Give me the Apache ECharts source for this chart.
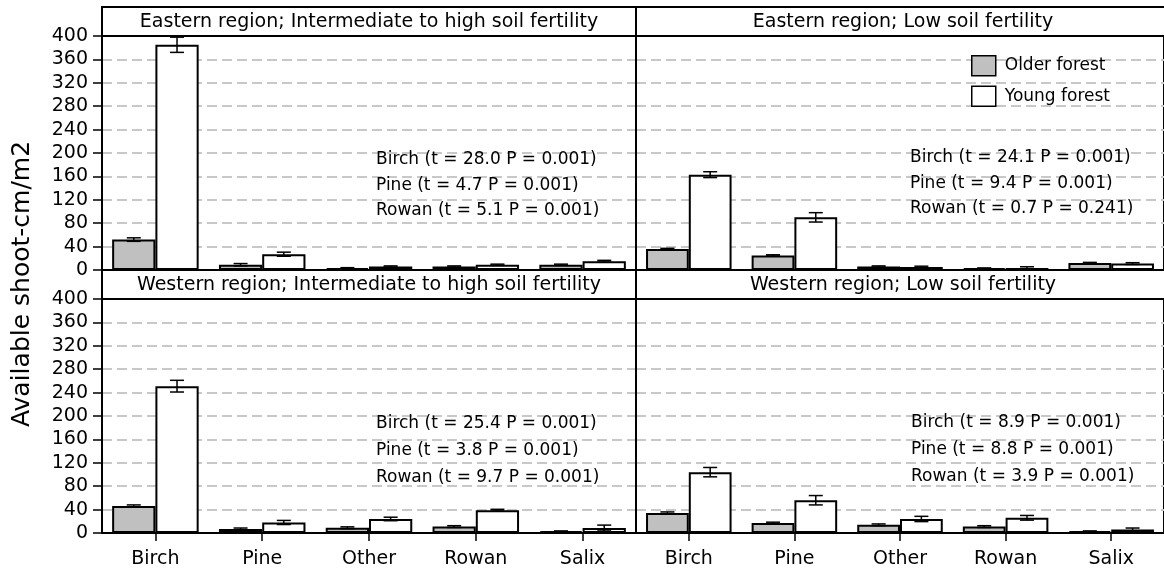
<!DOCTYPE html>
<html>
<head>
<meta charset="utf-8">
<script src="https://cdn.jsdelivr.net/npm/echarts@6/dist/echarts.min.js"></script>
<style>
html,body{margin:0;padding:0;background:#fff;}
#chart{width:1164px;height:573px;}
</style>
</head>
<body>
<div id="chart"></div>
<script>
// ---- data ----
const categories = ['Birch', 'Pine', 'Other', 'Rowan', 'Salix'];
const panelTitles = [
  'Eastern region; Intermediate to high soil fertility',
  'Eastern region; Low soil fertility',
  'Western region; Intermediate to high soil fertility',
  'Western region; Low soil fertility'
];
const seriesNames = ['Older forest', 'Young forest'];
const yTicks = [0, 40, 80, 120, 160, 200, 240, 280, 320, 360, 400];

const eastHighOlder = [52, 9, 3, 6, 9];
const eastHighOlderErr = [3, 2, 1, 1, 1];
const eastHighYoung = [385, 27, 6, 9, 15];
const eastHighYoungErr = [13, 3.5, 1, 1, 1.5];

const eastLowOlder = [36, 25, 6, 3, 12];
const eastLowOlderErr = [1, 1, 1, 0.5, 1];
const eastLowYoung = [163, 90, 5, 3.5, 11];
const eastLowYoungErr = [5, 8, 1.5, 2, 1.5];

const westHighOlder = [46, 7, 9, 11, 3];
const westHighOlderErr = [2, 1.5, 1.5, 1.5, 0.5];
const westHighYoung = [251, 18, 24, 39, 8.5];
const westHighYoungErr = [10, 3.5, 3, 1.5, 5];

const westLowOlder = [34, 17, 14, 11, 3];
const westLowOlderErr = [2, 1.5, 1.5, 1.5, 0.5];
const westLowYoung = [104, 56, 24, 26, 6];
const westLowYoungErr = [8, 8, 4.5, 4, 2.5];

const annotations = [
  ['Birch (t = 28.0 P = 0.001)', 'Pine (t = 4.7 P = 0.001)', 'Rowan (t = 5.1 P = 0.001)'],
  ['Birch (t = 24.1 P = 0.001)', 'Pine (t = 9.4 P = 0.001)', 'Rowan (t = 0.7 P = 0.241)'],
  ['Birch (t = 25.4 P = 0.001)', 'Pine (t = 3.8 P = 0.001)', 'Rowan (t = 9.7 P = 0.001)'],
  ['Birch (t = 8.9 P = 0.001)', 'Pine (t = 8.8 P = 0.001)', 'Rowan (t = 3.9 P = 0.001)']
];
const yAxisTitle = 'Available shoot-cm/m2';

// ---- layout / style ----
const FONT = 'DejaVu Sans';
const panels = [
  {left: 102, top: 36, older: eastHighOlder, olderErr: eastHighOlderErr, young: eastHighYoung, youngErr: eastHighYoungErr, showY: true, showX: false, ann: [376, 160, 25.5]},
  {left: 636, top: 36, older: eastLowOlder, olderErr: eastLowOlderErr, young: eastLowYoung, youngErr: eastLowYoungErr, showY: false, showX: false, ann: [910, 158, 25.5]},
  {left: 102, top: 299, older: westHighOlder, olderErr: westHighOlderErr, young: westHighYoung, youngErr: westHighYoungErr, showY: true, showX: true, ann: [376, 424, 27]},
  {left: 636, top: 299, older: westLowOlder, olderErr: westLowOlderErr, young: westLowYoung, youngErr: westLowYoungErr, showY: false, showX: true, ann: [911, 423, 27]}
];
const PW = 534, PH = 234, STRIP = 29;
const GAP = 0.19;
const colors = ['#c0c0c0', '#ffffff'];

const grids = [], xAxes = [], yAxes = [], series = [], graphics = [];

function errRender(side) {
  return function (params, api) {
    const ci = api.value(0), v = api.value(1), e = api.value(2);
    const c = api.coord([ci, v]);
    const band = api.size([1, 0])[0];
    const bw = band * (1 - GAP) / 2;
    const x = c[0] + side * bw / 2;
    const yt = api.coord([ci, v + e])[1];
    const yb = api.coord([ci, Math.max(0, v - e)])[1];
    const cap = 7;
    const st = {stroke: '#000', lineWidth: 1.5};
    return {
      type: 'group',
      children: [
        {type: 'line', shape: {x1: x, y1: yt, x2: x, y2: yb}, style: st},
        {type: 'line', shape: {x1: x - cap, y1: yt, x2: x + cap, y2: yt}, style: st},
        {type: 'line', shape: {x1: x - cap, y1: yb, x2: x + cap, y2: yb}, style: st}
      ]
    };
  };
}

panels.forEach((p, i) => {
  grids.push({left: p.left, top: p.top, width: PW, height: PH, show: true, borderColor: '#000', borderWidth: 2, backgroundColor: 'transparent'});
  xAxes.push({
    type: 'category', gridIndex: i, data: categories,
    axisLine: {show: true, lineStyle: {color: '#000', width: 2}},
    axisTick: {show: p.showX, alignWithLabel: true, length: 8, lineStyle: {color: '#000', width: 1.5}},
    axisLabel: {show: p.showX, color: '#000', fontFamily: FONT, fontSize: 19, margin: 17}
  });
  yAxes.push({
    type: 'value', gridIndex: i, min: 0, max: 400, interval: 40,
    axisLine: {show: true, lineStyle: {color: '#000', width: 2}},
    axisTick: {show: p.showY, length: 9, lineStyle: {color: '#000', width: 1.5}},
    axisLabel: {show: p.showY, color: '#000', fontFamily: FONT, fontSize: 19, margin: 14,
      formatter: v => yTicks.indexOf(v) >= 0 ? String(v) : ''},
    splitLine: {show: true, lineStyle: {color: '#c8c8c8', width: 2, type: [10, 5]}}
  });
  const vals = [p.older, p.young], errs = [p.olderErr, p.youngErr];
  vals.forEach((arr, s) => {
    series.push({
      type: 'bar', name: seriesNames[s], xAxisIndex: i, yAxisIndex: i, data: arr,
      barGap: '0%', barCategoryGap: (GAP * 100) + '%',
      itemStyle: {color: colors[s], borderColor: '#000', borderWidth: 2},
      emphasis: {disabled: true}, silent: true, z: 2
    });
  });
  vals.forEach((arr, s) => {
    series.push({
      type: 'custom', xAxisIndex: i, yAxisIndex: i, z: 5, silent: true,
      renderItem: errRender(s === 0 ? -1 : 1),
      encode: {x: 0, y: 1},
      data: arr.map((v, k) => [k, v, errs[s][k]])
    });
  });
  // strip
  graphics.push({type: 'rect', shape: {x: p.left, y: p.top - STRIP, width: PW, height: STRIP},
    style: {fill: '#fff', stroke: '#000', lineWidth: 2}, z: 10});
  graphics.push({type: 'text', x: p.left + PW / 2, y: p.top - STRIP / 2 + 1,
    style: {text: panelTitles[i], fill: '#000', font: '19px "' + FONT + '"', align: 'center', verticalAlign: 'middle'}, z: 11});
  annotations[i].forEach((t, k) => {
    graphics.push({type: 'text', x: p.ann[0], y: p.ann[1] + k * p.ann[2],
      style: {text: t, fill: '#000', font: '17px "' + FONT + '"', align: 'left', verticalAlign: 'middle'}, z: 11});
  });
});

graphics.push({type: 'text', x: 22, y: 284, rotation: Math.PI / 2,
  style: {text: yAxisTitle, fill: '#000', font: '25px "' + FONT + '"', align: 'center', verticalAlign: 'middle'}});

const chart = echarts.init(document.getElementById('chart'), null, {renderer: 'canvas'});
chart.setOption({
  animation: false,
  backgroundColor: '#fff',
  grid: grids, xAxis: xAxes, yAxis: yAxes, series: series,
  legend: {
    data: seriesNames.map((n, s) => ({name: n, icon: 'rect', itemStyle: {color: colors[s], borderColor: '#000', borderWidth: 1.5}})),
    orient: 'vertical', left: 971, top: 55, padding: 0, itemWidth: 24, itemHeight: 20, itemGap: 9,
    selectedMode: false,
    textStyle: {color: '#000', fontFamily: FONT, fontSize: 17, padding: [0, 0, 0, 4]}
  },
  graphic: graphics
});
</script>
</body>
</html>
